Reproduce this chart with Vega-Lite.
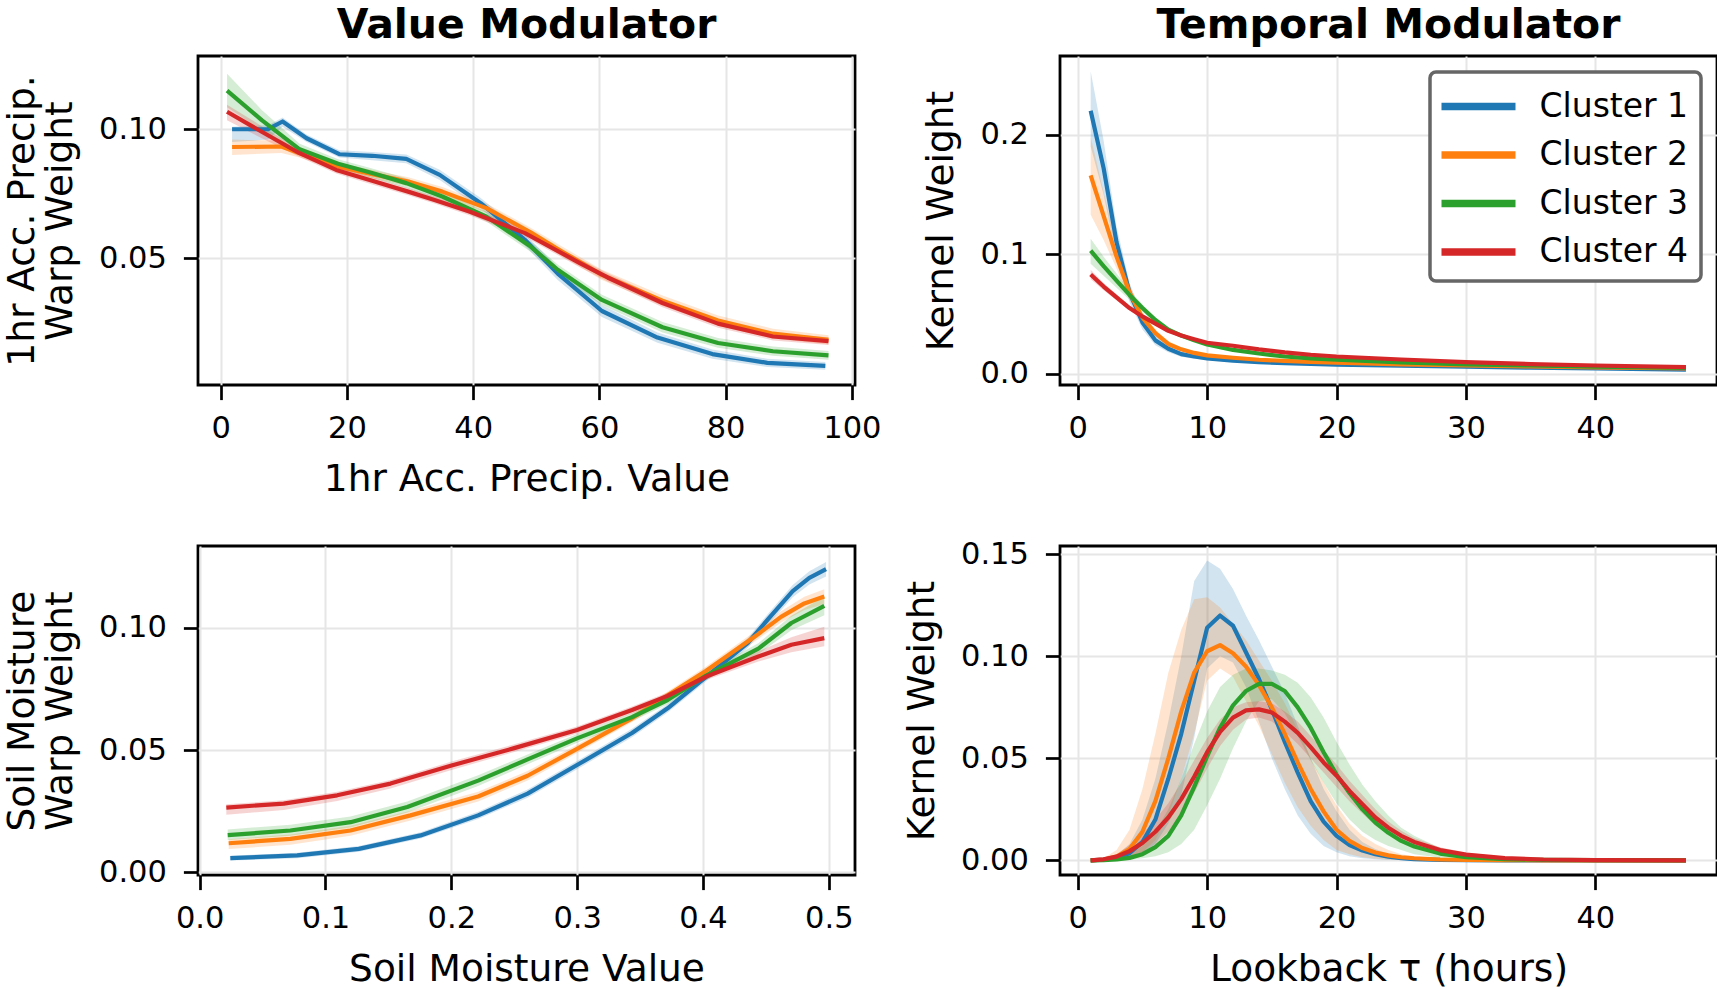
{
  "$schema": "https://vega.github.io/schema/vega-lite/v6.json",
  "background": "white",
  "padding": {"left": 2, "top": 3, "right": 0, "bottom": 0},
  "columns": 2,
  "spacing": {"row": 161, "column": 205},
  "bounds": "flush",
  "resolve": {"legend": {"stroke": "independent", "fill": "independent"}},
  "datasets": {
    "precip": [
      {"c":"Cluster 1","x":1.8,"m":0.1,"lo":0.095,"hi":0.101},
      {"c":"Cluster 1","x":7.5,"m":0.1,"lo":0.096,"hi":0.1015},
      {"c":"Cluster 1","x":9.8,"m":0.103,"lo":0.101,"hi":0.1045},
      {"c":"Cluster 1","x":13.6,"m":0.0965,"lo":0.095,"hi":0.098},
      {"c":"Cluster 1","x":18.8,"m":0.0903,"lo":0.089,"hi":0.0918},
      {"c":"Cluster 1","x":24,"m":0.0897,"lo":0.088,"hi":0.0912},
      {"c":"Cluster 1","x":29.4,"m":0.0885,"lo":0.0868,"hi":0.0902},
      {"c":"Cluster 1","x":34.7,"m":0.0823,"lo":0.0803,"hi":0.0843},
      {"c":"Cluster 1","x":41.2,"m":0.0713,"lo":0.0693,"hi":0.0733},
      {"c":"Cluster 1","x":48.2,"m":0.0571,"lo":0.0548,"hi":0.0594},
      {"c":"Cluster 1","x":53.4,"m":0.044,"lo":0.0415,"hi":0.0465},
      {"c":"Cluster 1","x":60.4,"m":0.0295,"lo":0.0272,"hi":0.0318},
      {"c":"Cluster 1","x":69.2,"m":0.0192,"lo":0.0172,"hi":0.0212},
      {"c":"Cluster 1","x":77.9,"m":0.0128,"lo":0.011,"hi":0.0146},
      {"c":"Cluster 1","x":86.6,"m":0.0094,"lo":0.0078,"hi":0.011},
      {"c":"Cluster 1","x":95.8,"m":0.0082,"lo":0.0067,"hi":0.0097},
      {"c":"Cluster 2","x":1.8,"m":0.0931,"lo":0.09,"hi":0.096},
      {"c":"Cluster 2","x":9.6,"m":0.0933,"lo":0.0908,"hi":0.0955},
      {"c":"Cluster 2","x":12.5,"m":0.0907,"lo":0.089,"hi":0.0922},
      {"c":"Cluster 2","x":18.6,"m":0.0855,"lo":0.084,"hi":0.087},
      {"c":"Cluster 2","x":24,"m":0.0826,"lo":0.081,"hi":0.0842},
      {"c":"Cluster 2","x":29.7,"m":0.0797,"lo":0.078,"hi":0.0814},
      {"c":"Cluster 2","x":35.1,"m":0.0758,"lo":0.074,"hi":0.0776},
      {"c":"Cluster 2","x":42.1,"m":0.0694,"lo":0.0676,"hi":0.0712},
      {"c":"Cluster 2","x":49.1,"m":0.06,"lo":0.0582,"hi":0.0618},
      {"c":"Cluster 2","x":54,"m":0.0527,"lo":0.0508,"hi":0.0546},
      {"c":"Cluster 2","x":60.4,"m":0.0435,"lo":0.0415,"hi":0.0455},
      {"c":"Cluster 2","x":70,"m":0.0335,"lo":0.0315,"hi":0.0355},
      {"c":"Cluster 2","x":78.8,"m":0.0258,"lo":0.0238,"hi":0.0278},
      {"c":"Cluster 2","x":87.5,"m":0.0207,"lo":0.0188,"hi":0.0226},
      {"c":"Cluster 2","x":96.3,"m":0.0183,"lo":0.0165,"hi":0.0201},
      {"c":"Cluster 3","x":1.0,"m":0.115,"lo":0.1085,"hi":0.1215},
      {"c":"Cluster 3","x":6.5,"m":0.1035,"lo":0.0995,"hi":0.1075},
      {"c":"Cluster 3","x":12.5,"m":0.0922,"lo":0.09,"hi":0.0944},
      {"c":"Cluster 3","x":18.6,"m":0.0866,"lo":0.0848,"hi":0.0884},
      {"c":"Cluster 3","x":24,"m":0.083,"lo":0.0812,"hi":0.0848},
      {"c":"Cluster 3","x":29.4,"m":0.0791,"lo":0.0772,"hi":0.081},
      {"c":"Cluster 3","x":35.1,"m":0.0739,"lo":0.072,"hi":0.0758},
      {"c":"Cluster 3","x":42.1,"m":0.0661,"lo":0.0642,"hi":0.068},
      {"c":"Cluster 3","x":49.1,"m":0.0545,"lo":0.0525,"hi":0.0565},
      {"c":"Cluster 3","x":53.4,"m":0.0455,"lo":0.0435,"hi":0.0475},
      {"c":"Cluster 3","x":60.4,"m":0.0338,"lo":0.0318,"hi":0.0358},
      {"c":"Cluster 3","x":70,"m":0.0232,"lo":0.0212,"hi":0.0252},
      {"c":"Cluster 3","x":78.8,"m":0.0171,"lo":0.0152,"hi":0.019},
      {"c":"Cluster 3","x":87.5,"m":0.0139,"lo":0.0121,"hi":0.0157},
      {"c":"Cluster 3","x":96.3,"m":0.0123,"lo":0.0106,"hi":0.014},
      {"c":"Cluster 4","x":1.0,"m":0.1068,"lo":0.1035,"hi":0.1095},
      {"c":"Cluster 4","x":6.5,"m":0.099,"lo":0.0965,"hi":0.1012},
      {"c":"Cluster 4","x":12.5,"m":0.0907,"lo":0.0892,"hi":0.0922},
      {"c":"Cluster 4","x":18.3,"m":0.0842,"lo":0.0828,"hi":0.0856},
      {"c":"Cluster 4","x":24,"m":0.08,"lo":0.0786,"hi":0.0814},
      {"c":"Cluster 4","x":29.7,"m":0.0758,"lo":0.0744,"hi":0.0772},
      {"c":"Cluster 4","x":34,"m":0.0725,"lo":0.0711,"hi":0.0739},
      {"c":"Cluster 4","x":39.5,"m":0.068,"lo":0.0665,"hi":0.0695},
      {"c":"Cluster 4","x":48.2,"m":0.0597,"lo":0.0582,"hi":0.0612},
      {"c":"Cluster 4","x":56.9,"m":0.0481,"lo":0.0465,"hi":0.0497},
      {"c":"Cluster 4","x":61.3,"m":0.0425,"lo":0.0409,"hi":0.0441},
      {"c":"Cluster 4","x":70,"m":0.0326,"lo":0.031,"hi":0.0342},
      {"c":"Cluster 4","x":78.8,"m":0.0246,"lo":0.023,"hi":0.0262},
      {"c":"Cluster 4","x":87.5,"m":0.0196,"lo":0.0181,"hi":0.0211},
      {"c":"Cluster 4","x":96.3,"m":0.0178,"lo":0.0163,"hi":0.0193}
    ],
    "decay": [
      {"c":"Cluster 1","x":1,"m":0.22,"lo":0.19,"hi":0.253},
      {"c":"Cluster 1","x":2,"m":0.172,"lo":0.15,"hi":0.195},
      {"c":"Cluster 1","x":3,"m":0.11,"lo":0.097,"hi":0.123},
      {"c":"Cluster 1","x":4,"m":0.068,"lo":0.06,"hi":0.076},
      {"c":"Cluster 1","x":5,"m":0.043,"lo":0.037,"hi":0.049},
      {"c":"Cluster 1","x":6,"m":0.028,"lo":0.024,"hi":0.032},
      {"c":"Cluster 1","x":7,"m":0.021,"lo":0.018,"hi":0.024},
      {"c":"Cluster 1","x":8,"m":0.0165,"lo":0.0143,"hi":0.0187},
      {"c":"Cluster 1","x":9,"m":0.0145,"lo":0.0127,"hi":0.0163},
      {"c":"Cluster 1","x":10,"m":0.013,"lo":0.0115,"hi":0.0145},
      {"c":"Cluster 1","x":12,"m":0.011,"lo":0.0099,"hi":0.0121},
      {"c":"Cluster 1","x":14,"m":0.0098,"lo":0.0089,"hi":0.0107},
      {"c":"Cluster 1","x":16,"m":0.009,"lo":0.0082,"hi":0.0098},
      {"c":"Cluster 1","x":18,"m":0.0083,"lo":0.0076,"hi":0.009},
      {"c":"Cluster 1","x":20,"m":0.0078,"lo":0.0071,"hi":0.0085},
      {"c":"Cluster 1","x":25,"m":0.0068,"lo":0.0062,"hi":0.0074},
      {"c":"Cluster 1","x":30,"m":0.006,"lo":0.0055,"hi":0.0065},
      {"c":"Cluster 1","x":35,"m":0.0052,"lo":0.0047,"hi":0.0057},
      {"c":"Cluster 1","x":40,"m":0.0045,"lo":0.0041,"hi":0.0049},
      {"c":"Cluster 1","x":47,"m":0.0035,"lo":0.0032,"hi":0.0038},
      {"c":"Cluster 2","x":1,"m":0.166,"lo":0.133,"hi":0.198},
      {"c":"Cluster 2","x":2,"m":0.132,"lo":0.112,"hi":0.152},
      {"c":"Cluster 2","x":3,"m":0.098,"lo":0.088,"hi":0.108},
      {"c":"Cluster 2","x":4,"m":0.068,"lo":0.062,"hi":0.074},
      {"c":"Cluster 2","x":5,"m":0.047,"lo":0.043,"hi":0.051},
      {"c":"Cluster 2","x":6,"m":0.034,"lo":0.031,"hi":0.037},
      {"c":"Cluster 2","x":7,"m":0.025,"lo":0.023,"hi":0.027},
      {"c":"Cluster 2","x":8,"m":0.0205,"lo":0.0189,"hi":0.0221},
      {"c":"Cluster 2","x":9,"m":0.0175,"lo":0.0161,"hi":0.0189},
      {"c":"Cluster 2","x":10,"m":0.0155,"lo":0.0143,"hi":0.0167},
      {"c":"Cluster 2","x":12,"m":0.0135,"lo":0.0125,"hi":0.0145},
      {"c":"Cluster 2","x":14,"m":0.0118,"lo":0.0109,"hi":0.0127},
      {"c":"Cluster 2","x":16,"m":0.0108,"lo":0.01,"hi":0.0116},
      {"c":"Cluster 2","x":18,"m":0.01,"lo":0.0093,"hi":0.0107},
      {"c":"Cluster 2","x":20,"m":0.0093,"lo":0.0086,"hi":0.01},
      {"c":"Cluster 2","x":25,"m":0.008,"lo":0.0074,"hi":0.0086},
      {"c":"Cluster 2","x":30,"m":0.007,"lo":0.0065,"hi":0.0075},
      {"c":"Cluster 2","x":35,"m":0.0062,"lo":0.0057,"hi":0.0067},
      {"c":"Cluster 2","x":40,"m":0.0055,"lo":0.0051,"hi":0.0059},
      {"c":"Cluster 2","x":47,"m":0.0046,"lo":0.0042,"hi":0.005},
      {"c":"Cluster 3","x":1,"m":0.103,"lo":0.092,"hi":0.113},
      {"c":"Cluster 3","x":2,"m":0.09,"lo":0.082,"hi":0.098},
      {"c":"Cluster 3","x":3,"m":0.078,"lo":0.072,"hi":0.084},
      {"c":"Cluster 3","x":4,"m":0.066,"lo":0.062,"hi":0.07},
      {"c":"Cluster 3","x":5,"m":0.055,"lo":0.052,"hi":0.058},
      {"c":"Cluster 3","x":6,"m":0.045,"lo":0.043,"hi":0.047},
      {"c":"Cluster 3","x":7,"m":0.037,"lo":0.035,"hi":0.039},
      {"c":"Cluster 3","x":8,"m":0.032,"lo":0.0304,"hi":0.0336},
      {"c":"Cluster 3","x":9,"m":0.028,"lo":0.0266,"hi":0.0294},
      {"c":"Cluster 3","x":10,"m":0.0245,"lo":0.0233,"hi":0.0257},
      {"c":"Cluster 3","x":12,"m":0.02,"lo":0.019,"hi":0.021},
      {"c":"Cluster 3","x":14,"m":0.017,"lo":0.0162,"hi":0.0178},
      {"c":"Cluster 3","x":16,"m":0.0145,"lo":0.0138,"hi":0.0152},
      {"c":"Cluster 3","x":18,"m":0.013,"lo":0.0124,"hi":0.0136},
      {"c":"Cluster 3","x":20,"m":0.0118,"lo":0.0112,"hi":0.0124},
      {"c":"Cluster 3","x":25,"m":0.0095,"lo":0.009,"hi":0.01},
      {"c":"Cluster 3","x":30,"m":0.008,"lo":0.0076,"hi":0.0084},
      {"c":"Cluster 3","x":35,"m":0.007,"lo":0.0066,"hi":0.0074},
      {"c":"Cluster 3","x":40,"m":0.006,"lo":0.0057,"hi":0.0063},
      {"c":"Cluster 3","x":47,"m":0.005,"lo":0.0047,"hi":0.0053},
      {"c":"Cluster 4","x":1,"m":0.083,"lo":0.079,"hi":0.087},
      {"c":"Cluster 4","x":2,"m":0.073,"lo":0.07,"hi":0.076},
      {"c":"Cluster 4","x":3,"m":0.064,"lo":0.0615,"hi":0.0665},
      {"c":"Cluster 4","x":4,"m":0.055,"lo":0.053,"hi":0.057},
      {"c":"Cluster 4","x":5,"m":0.048,"lo":0.0463,"hi":0.0497},
      {"c":"Cluster 4","x":6,"m":0.042,"lo":0.0406,"hi":0.0434},
      {"c":"Cluster 4","x":7,"m":0.036,"lo":0.0348,"hi":0.0372},
      {"c":"Cluster 4","x":8,"m":0.032,"lo":0.031,"hi":0.033},
      {"c":"Cluster 4","x":9,"m":0.029,"lo":0.0281,"hi":0.0299},
      {"c":"Cluster 4","x":10,"m":0.026,"lo":0.0252,"hi":0.0268},
      {"c":"Cluster 4","x":12,"m":0.0235,"lo":0.0228,"hi":0.0242},
      {"c":"Cluster 4","x":14,"m":0.0205,"lo":0.0199,"hi":0.0211},
      {"c":"Cluster 4","x":16,"m":0.018,"lo":0.0174,"hi":0.0186},
      {"c":"Cluster 4","x":18,"m":0.016,"lo":0.0155,"hi":0.0165},
      {"c":"Cluster 4","x":20,"m":0.0145,"lo":0.014,"hi":0.015},
      {"c":"Cluster 4","x":25,"m":0.012,"lo":0.0116,"hi":0.0124},
      {"c":"Cluster 4","x":30,"m":0.0098,"lo":0.0094,"hi":0.0102},
      {"c":"Cluster 4","x":35,"m":0.0082,"lo":0.0079,"hi":0.0085},
      {"c":"Cluster 4","x":40,"m":0.007,"lo":0.0067,"hi":0.0073},
      {"c":"Cluster 4","x":47,"m":0.0057,"lo":0.0054,"hi":0.006}
    ],
    "soil": [
      {"c":"Cluster 1","x":0.0244,"m":0.0058,"lo":0.0048,"hi":0.0068},
      {"c":"Cluster 1","x":0.0775,"m":0.0069,"lo":0.0058,"hi":0.008},
      {"c":"Cluster 1","x":0.1265,"m":0.0096,"lo":0.0084,"hi":0.0108},
      {"c":"Cluster 1","x":0.1756,"m":0.0151,"lo":0.0138,"hi":0.0164},
      {"c":"Cluster 1","x":0.2213,"m":0.0233,"lo":0.0218,"hi":0.0248},
      {"c":"Cluster 1","x":0.2606,"m":0.0322,"lo":0.0305,"hi":0.0339},
      {"c":"Cluster 1","x":0.302,"m":0.0445,"lo":0.0428,"hi":0.0462},
      {"c":"Cluster 1","x":0.3436,"m":0.057,"lo":0.0553,"hi":0.0587},
      {"c":"Cluster 1","x":0.3719,"m":0.0671,"lo":0.0654,"hi":0.0688},
      {"c":"Cluster 1","x":0.4025,"m":0.08,"lo":0.0782,"hi":0.0818},
      {"c":"Cluster 1","x":0.4355,"m":0.0938,"lo":0.0918,"hi":0.0958},
      {"c":"Cluster 1","x":0.4514,"m":0.1034,"lo":0.1012,"hi":0.1056},
      {"c":"Cluster 1","x":0.4713,"m":0.115,"lo":0.1125,"hi":0.1175},
      {"c":"Cluster 1","x":0.4845,"m":0.1205,"lo":0.1178,"hi":0.1232},
      {"c":"Cluster 1","x":0.4978,"m":0.124,"lo":0.121,"hi":0.127},
      {"c":"Cluster 2","x":0.0231,"m":0.0119,"lo":0.0095,"hi":0.0135},
      {"c":"Cluster 2","x":0.0721,"m":0.0137,"lo":0.0113,"hi":0.0155},
      {"c":"Cluster 2","x":0.1199,"m":0.0171,"lo":0.015,"hi":0.019},
      {"c":"Cluster 2","x":0.1676,"m":0.0233,"lo":0.0212,"hi":0.0252},
      {"c":"Cluster 2","x":0.2213,"m":0.031,"lo":0.029,"hi":0.033},
      {"c":"Cluster 2","x":0.2606,"m":0.0395,"lo":0.0376,"hi":0.0414},
      {"c":"Cluster 2","x":0.2999,"m":0.0505,"lo":0.0488,"hi":0.0522},
      {"c":"Cluster 2","x":0.3436,"m":0.063,"lo":0.0614,"hi":0.0646},
      {"c":"Cluster 2","x":0.3719,"m":0.0724,"lo":0.0708,"hi":0.074},
      {"c":"Cluster 2","x":0.4025,"m":0.0825,"lo":0.0808,"hi":0.0842},
      {"c":"Cluster 2","x":0.444,"m":0.0975,"lo":0.0955,"hi":0.0995},
      {"c":"Cluster 2","x":0.462,"m":0.1045,"lo":0.1022,"hi":0.1068},
      {"c":"Cluster 2","x":0.4805,"m":0.11,"lo":0.1073,"hi":0.1127},
      {"c":"Cluster 2","x":0.4964,"m":0.1128,"lo":0.1098,"hi":0.1158},
      {"c":"Cluster 3","x":0.0223,"m":0.0152,"lo":0.0132,"hi":0.0175},
      {"c":"Cluster 3","x":0.0721,"m":0.0171,"lo":0.015,"hi":0.0195},
      {"c":"Cluster 3","x":0.1199,"m":0.0205,"lo":0.0183,"hi":0.0228},
      {"c":"Cluster 3","x":0.165,"m":0.0267,"lo":0.0245,"hi":0.029},
      {"c":"Cluster 3","x":0.2213,"m":0.0375,"lo":0.0353,"hi":0.0397},
      {"c":"Cluster 3","x":0.2606,"m":0.0462,"lo":0.0442,"hi":0.0482},
      {"c":"Cluster 3","x":0.2999,"m":0.0548,"lo":0.053,"hi":0.0566},
      {"c":"Cluster 3","x":0.3436,"m":0.0635,"lo":0.0618,"hi":0.0652},
      {"c":"Cluster 3","x":0.3719,"m":0.0705,"lo":0.0688,"hi":0.0722},
      {"c":"Cluster 3","x":0.4025,"m":0.0805,"lo":0.0788,"hi":0.0822},
      {"c":"Cluster 3","x":0.444,"m":0.0915,"lo":0.0893,"hi":0.0937},
      {"c":"Cluster 3","x":0.4702,"m":0.102,"lo":0.099,"hi":0.105},
      {"c":"Cluster 3","x":0.4964,"m":0.109,"lo":0.1052,"hi":0.1128},
      {"c":"Cluster 4","x":0.0212,"m":0.0265,"lo":0.0235,"hi":0.0278},
      {"c":"Cluster 4","x":0.0668,"m":0.0281,"lo":0.0255,"hi":0.0295},
      {"c":"Cluster 4","x":0.1093,"m":0.0315,"lo":0.0292,"hi":0.033},
      {"c":"Cluster 4","x":0.1517,"m":0.0363,"lo":0.0343,"hi":0.0378},
      {"c":"Cluster 4","x":0.1995,"m":0.0436,"lo":0.0418,"hi":0.0452},
      {"c":"Cluster 4","x":0.25,"m":0.0508,"lo":0.0492,"hi":0.0524},
      {"c":"Cluster 4","x":0.2999,"m":0.0582,"lo":0.0567,"hi":0.0597},
      {"c":"Cluster 4","x":0.3436,"m":0.0664,"lo":0.065,"hi":0.0678},
      {"c":"Cluster 4","x":0.3719,"m":0.0722,"lo":0.0708,"hi":0.0736},
      {"c":"Cluster 4","x":0.4025,"m":0.0801,"lo":0.0787,"hi":0.0815},
      {"c":"Cluster 4","x":0.444,"m":0.0883,"lo":0.0862,"hi":0.0904},
      {"c":"Cluster 4","x":0.4702,"m":0.0931,"lo":0.09,"hi":0.0962},
      {"c":"Cluster 4","x":0.4964,"m":0.0958,"lo":0.0925,"hi":0.1005}
    ],
    "kernel": [
      {"c":"Cluster 1","x":1,"m":0,"lo":0,"hi":0},
      {"c":"Cluster 1","x":2,"m":0.0003,"lo":0.0001,"hi":0.0006},
      {"c":"Cluster 1","x":3,"m":0.0012,"lo":0.0004,"hi":0.0025},
      {"c":"Cluster 1","x":4,"m":0.0035,"lo":0.001,"hi":0.008},
      {"c":"Cluster 1","x":5,"m":0.009,"lo":0.003,"hi":0.02},
      {"c":"Cluster 1","x":6,"m":0.02,"lo":0.008,"hi":0.04},
      {"c":"Cluster 1","x":7,"m":0.04,"lo":0.018,"hi":0.068},
      {"c":"Cluster 1","x":8,"m":0.062,"lo":0.032,"hi":0.1},
      {"c":"Cluster 1","x":9,"m":0.088,"lo":0.06,"hi":0.137},
      {"c":"Cluster 1","x":10,"m":0.114,"lo":0.094,"hi":0.147},
      {"c":"Cluster 1","x":11,"m":0.12,"lo":0.1,"hi":0.143},
      {"c":"Cluster 1","x":12,"m":0.115,"lo":0.097,"hi":0.133},
      {"c":"Cluster 1","x":13,"m":0.102,"lo":0.085,"hi":0.12},
      {"c":"Cluster 1","x":14,"m":0.089,"lo":0.068,"hi":0.108},
      {"c":"Cluster 1","x":15,"m":0.074,"lo":0.05,"hi":0.095},
      {"c":"Cluster 1","x":16,"m":0.058,"lo":0.035,"hi":0.082},
      {"c":"Cluster 1","x":17,"m":0.043,"lo":0.022,"hi":0.066},
      {"c":"Cluster 1","x":18,"m":0.029,"lo":0.013,"hi":0.05},
      {"c":"Cluster 1","x":19,"m":0.019,"lo":0.007,"hi":0.035},
      {"c":"Cluster 1","x":20,"m":0.012,"lo":0.004,"hi":0.024},
      {"c":"Cluster 1","x":21,"m":0.0075,"lo":0.002,"hi":0.015},
      {"c":"Cluster 1","x":22,"m":0.0048,"lo":0.001,"hi":0.009},
      {"c":"Cluster 1","x":23,"m":0.003,"lo":0.0005,"hi":0.0055},
      {"c":"Cluster 1","x":24,"m":0.0018,"lo":0.0002,"hi":0.0032},
      {"c":"Cluster 1","x":25,"m":0.001,"lo":0.0001,"hi":0.002},
      {"c":"Cluster 1","x":26,"m":0.0006,"lo":0,"hi":0.0012},
      {"c":"Cluster 1","x":28,"m":0.0002,"lo":0,"hi":0.0005},
      {"c":"Cluster 1","x":30,"m":0.0001,"lo":0,"hi":0.0002},
      {"c":"Cluster 1","x":33,"m":0,"lo":0,"hi":0.0001},
      {"c":"Cluster 1","x":36,"m":0,"lo":0,"hi":0},
      {"c":"Cluster 1","x":40,"m":0,"lo":0,"hi":0},
      {"c":"Cluster 1","x":47,"m":0,"lo":0,"hi":0},
      {"c":"Cluster 2","x":1,"m":0,"lo":0,"hi":0},
      {"c":"Cluster 2","x":2,"m":0.0004,"lo":0.0001,"hi":0.001},
      {"c":"Cluster 2","x":3,"m":0.0018,"lo":0.0005,"hi":0.005},
      {"c":"Cluster 2","x":4,"m":0.0055,"lo":0.0015,"hi":0.015},
      {"c":"Cluster 2","x":5,"m":0.014,"lo":0.004,"hi":0.035},
      {"c":"Cluster 2","x":6,"m":0.029,"lo":0.01,"hi":0.062},
      {"c":"Cluster 2","x":7,"m":0.05,"lo":0.022,"hi":0.092},
      {"c":"Cluster 2","x":8,"m":0.073,"lo":0.04,"hi":0.113},
      {"c":"Cluster 2","x":9,"m":0.092,"lo":0.062,"hi":0.128},
      {"c":"Cluster 2","x":10,"m":0.1025,"lo":0.088,"hi":0.129},
      {"c":"Cluster 2","x":11,"m":0.1055,"lo":0.094,"hi":0.124},
      {"c":"Cluster 2","x":12,"m":0.1015,"lo":0.09,"hi":0.116},
      {"c":"Cluster 2","x":13,"m":0.095,"lo":0.078,"hi":0.108},
      {"c":"Cluster 2","x":14,"m":0.086,"lo":0.066,"hi":0.098},
      {"c":"Cluster 2","x":15,"m":0.075,"lo":0.052,"hi":0.088},
      {"c":"Cluster 2","x":16,"m":0.062,"lo":0.038,"hi":0.077},
      {"c":"Cluster 2","x":17,"m":0.048,"lo":0.026,"hi":0.064},
      {"c":"Cluster 2","x":18,"m":0.035,"lo":0.017,"hi":0.05},
      {"c":"Cluster 2","x":19,"m":0.024,"lo":0.01,"hi":0.038},
      {"c":"Cluster 2","x":20,"m":0.015,"lo":0.005,"hi":0.027},
      {"c":"Cluster 2","x":21,"m":0.0095,"lo":0.003,"hi":0.018},
      {"c":"Cluster 2","x":22,"m":0.006,"lo":0.0015,"hi":0.012},
      {"c":"Cluster 2","x":23,"m":0.0038,"lo":0.0008,"hi":0.008},
      {"c":"Cluster 2","x":24,"m":0.0024,"lo":0.0004,"hi":0.005},
      {"c":"Cluster 2","x":25,"m":0.0015,"lo":0.0002,"hi":0.003},
      {"c":"Cluster 2","x":26,"m":0.001,"lo":0.0001,"hi":0.002},
      {"c":"Cluster 2","x":28,"m":0.0004,"lo":0,"hi":0.0008},
      {"c":"Cluster 2","x":30,"m":0.0002,"lo":0,"hi":0.0004},
      {"c":"Cluster 2","x":33,"m":0.0001,"lo":0,"hi":0.0001},
      {"c":"Cluster 2","x":36,"m":0,"lo":0,"hi":0},
      {"c":"Cluster 2","x":40,"m":0,"lo":0,"hi":0},
      {"c":"Cluster 2","x":47,"m":0,"lo":0,"hi":0},
      {"c":"Cluster 3","x":1,"m":0,"lo":0,"hi":0},
      {"c":"Cluster 3","x":2,"m":0.0001,"lo":0,"hi":0.0003},
      {"c":"Cluster 3","x":3,"m":0.0004,"lo":0.0001,"hi":0.001},
      {"c":"Cluster 3","x":4,"m":0.0012,"lo":0.0003,"hi":0.003},
      {"c":"Cluster 3","x":5,"m":0.003,"lo":0.001,"hi":0.007},
      {"c":"Cluster 3","x":6,"m":0.0065,"lo":0.002,"hi":0.014},
      {"c":"Cluster 3","x":7,"m":0.012,"lo":0.004,"hi":0.025},
      {"c":"Cluster 3","x":8,"m":0.022,"lo":0.008,"hi":0.04},
      {"c":"Cluster 3","x":9,"m":0.036,"lo":0.015,"hi":0.057},
      {"c":"Cluster 3","x":10,"m":0.051,"lo":0.027,"hi":0.073},
      {"c":"Cluster 3","x":11,"m":0.065,"lo":0.04,"hi":0.085},
      {"c":"Cluster 3","x":12,"m":0.076,"lo":0.055,"hi":0.091},
      {"c":"Cluster 3","x":13,"m":0.083,"lo":0.068,"hi":0.094},
      {"c":"Cluster 3","x":14,"m":0.0865,"lo":0.078,"hi":0.094},
      {"c":"Cluster 3","x":15,"m":0.0865,"lo":0.079,"hi":0.093},
      {"c":"Cluster 3","x":16,"m":0.083,"lo":0.072,"hi":0.091},
      {"c":"Cluster 3","x":17,"m":0.075,"lo":0.061,"hi":0.087},
      {"c":"Cluster 3","x":18,"m":0.065,"lo":0.049,"hi":0.08},
      {"c":"Cluster 3","x":19,"m":0.053,"lo":0.038,"hi":0.07},
      {"c":"Cluster 3","x":20,"m":0.042,"lo":0.028,"hi":0.058},
      {"c":"Cluster 3","x":21,"m":0.033,"lo":0.02,"hi":0.047},
      {"c":"Cluster 3","x":22,"m":0.025,"lo":0.014,"hi":0.037},
      {"c":"Cluster 3","x":23,"m":0.0185,"lo":0.01,"hi":0.029},
      {"c":"Cluster 3","x":24,"m":0.0135,"lo":0.007,"hi":0.022},
      {"c":"Cluster 3","x":25,"m":0.0095,"lo":0.005,"hi":0.016},
      {"c":"Cluster 3","x":26,"m":0.0068,"lo":0.003,"hi":0.012},
      {"c":"Cluster 3","x":28,"m":0.0033,"lo":0.0012,"hi":0.006},
      {"c":"Cluster 3","x":30,"m":0.0016,"lo":0.0005,"hi":0.003},
      {"c":"Cluster 3","x":33,"m":0.0006,"lo":0.0001,"hi":0.0012},
      {"c":"Cluster 3","x":36,"m":0.0002,"lo":0,"hi":0.0005},
      {"c":"Cluster 3","x":40,"m":0.0001,"lo":0,"hi":0.0002},
      {"c":"Cluster 3","x":47,"m":0,"lo":0,"hi":0},
      {"c":"Cluster 4","x":1,"m":0,"lo":0,"hi":0},
      {"c":"Cluster 4","x":2,"m":0.0005,"lo":0.0002,"hi":0.0009},
      {"c":"Cluster 4","x":3,"m":0.0018,"lo":0.0008,"hi":0.003},
      {"c":"Cluster 4","x":4,"m":0.0045,"lo":0.002,"hi":0.0075},
      {"c":"Cluster 4","x":5,"m":0.0085,"lo":0.004,"hi":0.013},
      {"c":"Cluster 4","x":6,"m":0.014,"lo":0.008,"hi":0.02},
      {"c":"Cluster 4","x":7,"m":0.021,"lo":0.014,"hi":0.028},
      {"c":"Cluster 4","x":8,"m":0.03,"lo":0.022,"hi":0.038},
      {"c":"Cluster 4","x":9,"m":0.041,"lo":0.033,"hi":0.049},
      {"c":"Cluster 4","x":10,"m":0.053,"lo":0.045,"hi":0.06},
      {"c":"Cluster 4","x":11,"m":0.063,"lo":0.056,"hi":0.069},
      {"c":"Cluster 4","x":12,"m":0.07,"lo":0.064,"hi":0.075},
      {"c":"Cluster 4","x":13,"m":0.0735,"lo":0.069,"hi":0.0775},
      {"c":"Cluster 4","x":14,"m":0.074,"lo":0.07,"hi":0.078},
      {"c":"Cluster 4","x":15,"m":0.0725,"lo":0.068,"hi":0.077},
      {"c":"Cluster 4","x":16,"m":0.068,"lo":0.063,"hi":0.073},
      {"c":"Cluster 4","x":17,"m":0.0625,"lo":0.057,"hi":0.068},
      {"c":"Cluster 4","x":18,"m":0.0555,"lo":0.05,"hi":0.061},
      {"c":"Cluster 4","x":19,"m":0.048,"lo":0.043,"hi":0.054},
      {"c":"Cluster 4","x":20,"m":0.0415,"lo":0.036,"hi":0.047},
      {"c":"Cluster 4","x":21,"m":0.034,"lo":0.029,"hi":0.039},
      {"c":"Cluster 4","x":22,"m":0.0275,"lo":0.023,"hi":0.032},
      {"c":"Cluster 4","x":23,"m":0.021,"lo":0.017,"hi":0.025},
      {"c":"Cluster 4","x":24,"m":0.016,"lo":0.013,"hi":0.019},
      {"c":"Cluster 4","x":25,"m":0.012,"lo":0.0095,"hi":0.0145},
      {"c":"Cluster 4","x":26,"m":0.009,"lo":0.007,"hi":0.011},
      {"c":"Cluster 4","x":28,"m":0.005,"lo":0.0036,"hi":0.0064},
      {"c":"Cluster 4","x":30,"m":0.0028,"lo":0.0018,"hi":0.0038},
      {"c":"Cluster 4","x":33,"m":0.0011,"lo":0.0006,"hi":0.0016},
      {"c":"Cluster 4","x":36,"m":0.0004,"lo":0.0002,"hi":0.0007},
      {"c":"Cluster 4","x":40,"m":0.0001,"lo":0,"hi":0.0002},
      {"c":"Cluster 4","x":47,"m":0,"lo":0,"hi":0}
    ]
  },
  "concat": [
    {
      "width": 657, "height": 329,
      "title": {"text": "Value Modulator"},
      "data": {"name": "precip"},
      "layer": [
        {"mark": {"type": "area", "fillOpacity": 0.2},
         "encoding": {
           "x": {"field": "x", "type": "quantitative", "scale": {"domain": [-3.6, 100.5], "nice": false, "zero": false}, "axis": {"values": [0, 20, 40, 60, 80, 100], "format": "d", "title": "1hr Acc. Precip. Value"}},
           "y": {"field": "lo", "type": "quantitative", "scale": {"domain": [0.0008, 0.1284], "nice": false, "zero": false}, "axis": {"values": [0.05, 0.1], "format": ".2f", "title": ["1hr Acc. Precip.", "Warp Weight"]}},
           "y2": {"field": "hi"},
           "fill": {"field": "c", "type": "nominal", "legend": null}
         }},
        {"mark": {"type": "line", "strokeWidth": 4.2, "strokeJoin": "round"},
         "encoding": {
           "x": {"field": "x", "type": "quantitative", "scale": {"domain": [-3.6, 100.5], "nice": false, "zero": false}, "axis": {"values": [0, 20, 40, 60, 80, 100], "format": "d", "title": "1hr Acc. Precip. Value"}},
           "y": {"field": "m", "type": "quantitative", "scale": {"domain": [0.0008, 0.1284], "nice": false, "zero": false}, "axis": {"values": [0.05, 0.1], "format": ".2f", "title": ["1hr Acc. Precip.", "Warp Weight"]}},
           "stroke": {"field": "c", "type": "nominal", "legend": null}
         }}
      ]
    },
    {
      "width": 657, "height": 329,
      "title": {"text": "Temporal Modulator"},
      "data": {"name": "decay"},
      "layer": [
        {"mark": {"type": "area", "fillOpacity": 0.2},
         "encoding": {
           "x": {"field": "x", "type": "quantitative", "scale": {"domain": [-1.37, 49.4], "nice": false, "zero": false}, "axis": {"values": [0, 10, 20, 30, 40], "format": "d", "title": null}},
           "y": {"field": "lo", "type": "quantitative", "scale": {"domain": [-0.0093, 0.2657], "nice": false, "zero": false}, "axis": {"values": [0, 0.1, 0.2], "format": ".1f", "title": "Kernel Weight"}},
           "y2": {"field": "hi"},
           "fill": {"field": "c", "type": "nominal", "legend": null}
         }},
        {"mark": {"type": "line", "strokeWidth": 4.2, "strokeJoin": "round"},
         "encoding": {
           "x": {"field": "x", "type": "quantitative", "scale": {"domain": [-1.37, 49.4], "nice": false, "zero": false}, "axis": {"values": [0, 10, 20, 30, 40], "format": "d", "title": null}},
           "y": {"field": "m", "type": "quantitative", "scale": {"domain": [-0.0093, 0.2657], "nice": false, "zero": false}, "axis": {"values": [0, 0.1, 0.2], "format": ".1f", "title": "Kernel Weight"}},
           "stroke": {"field": "c", "type": "nominal", "legend": {
             "orient": "top-right", "offset": 16, "title": null,
             "symbolType": "M-2,0H2", "symbolSize": 1369, "symbolStrokeWidth": 7.7,
             "symbolOffset": 14, "labelOffset": 38.5,
             "labelFontSize": 33, "labelFont": "DejaVu Sans", "labelColor": "black", "labelLimit": 400,
             "rowPadding": 8.5, "padding": 12,
             "strokeColor": "#666666", "cornerRadius": 6, "fillColor": "white",
             "encode": {"legend": {"update": {"strokeWidth": {"value": 3.5}}}}
           }}
         }}
      ]
    },
    {
      "width": 657, "height": 329,
      "data": {"name": "soil"},
      "layer": [
        {"mark": {"type": "area", "fillOpacity": 0.2},
         "encoding": {
           "x": {"field": "x", "type": "quantitative", "scale": {"domain": [-0.0013, 0.5208], "nice": false, "zero": false}, "axis": {"values": [0, 0.1, 0.2, 0.3, 0.4, 0.5], "format": ".1f", "title": "Soil Moisture Value"}},
           "y": {"field": "lo", "type": "quantitative", "scale": {"domain": [-0.0011, 0.1335], "nice": false, "zero": false}, "axis": {"values": [0, 0.05, 0.1], "format": ".2f", "title": ["Soil Moisture", "Warp Weight"]}},
           "y2": {"field": "hi"},
           "fill": {"field": "c", "type": "nominal", "legend": null}
         }},
        {"mark": {"type": "line", "strokeWidth": 4.2, "strokeJoin": "round"},
         "encoding": {
           "x": {"field": "x", "type": "quantitative", "scale": {"domain": [-0.0013, 0.5208], "nice": false, "zero": false}, "axis": {"values": [0, 0.1, 0.2, 0.3, 0.4, 0.5], "format": ".1f", "title": "Soil Moisture Value"}},
           "y": {"field": "m", "type": "quantitative", "scale": {"domain": [-0.0011, 0.1335], "nice": false, "zero": false}, "axis": {"values": [0, 0.05, 0.1], "format": ".2f", "title": ["Soil Moisture", "Warp Weight"]}},
           "stroke": {"field": "c", "type": "nominal", "legend": null}
         }}
      ]
    },
    {
      "width": 657, "height": 329,
      "data": {"name": "kernel"},
      "layer": [
        {"mark": {"type": "area", "fillOpacity": 0.2},
         "encoding": {
           "x": {"field": "x", "type": "quantitative", "scale": {"domain": [-1.37, 49.4], "nice": false, "zero": false}, "axis": {"values": [0, 10, 20, 30, 40], "format": "d", "title": "Lookback τ (hours)"}},
           "y": {"field": "lo", "type": "quantitative", "scale": {"domain": [-0.0072, 0.1541], "nice": false, "zero": false}, "axis": {"values": [0, 0.05, 0.1, 0.15], "format": ".2f", "title": "Kernel Weight"}},
           "y2": {"field": "hi"},
           "fill": {"field": "c", "type": "nominal", "legend": null}
         }},
        {"mark": {"type": "line", "strokeWidth": 4.2, "strokeJoin": "round"},
         "encoding": {
           "x": {"field": "x", "type": "quantitative", "scale": {"domain": [-1.37, 49.4], "nice": false, "zero": false}, "axis": {"values": [0, 10, 20, 30, 40], "format": "d", "title": "Lookback τ (hours)"}},
           "y": {"field": "m", "type": "quantitative", "scale": {"domain": [-0.0072, 0.1541], "nice": false, "zero": false}, "axis": {"values": [0, 0.05, 0.1, 0.15], "format": ".2f", "title": "Kernel Weight"}},
           "stroke": {"field": "c", "type": "nominal", "legend": null}
         }}
      ]
    }
  ],
  "config": {
    "font": "DejaVu Sans",
    "range": {"category": ["#1f77b4", "#ff7f0e", "#2ca02c", "#d62728"]},
    "view": {"stroke": "black", "strokeWidth": 2.8},
    "axis": {
      "domain": false,
      "ticks": true, "tickSize": 14.6, "tickWidth": 2.7, "tickColor": "black",
      "labelFont": "DejaVu Sans", "labelFontSize": 30.5, "labelColor": "black", "labelPadding": 17,
      "labelFlush": false, "labelOverlap": false, "labelBound": false,
      "titleFont": "DejaVu Sans", "titleFontSize": 37.5, "titleFontWeight": "normal", "titleColor": "black",
      "titlePadding": 19, "titleLineHeight": 38,
      "grid": true, "gridColor": "#e6e6e6", "gridWidth": 2
    },
    "axisX": {"labelPadding": 14, "titlePadding": 16},
    "title": {
      "font": "DejaVu Sans", "fontSize": 41, "fontWeight": "bold", "color": "black",
      "anchor": "middle", "frame": "group", "offset": 9, "baseline": "alphabetic"
    }
  }
}
